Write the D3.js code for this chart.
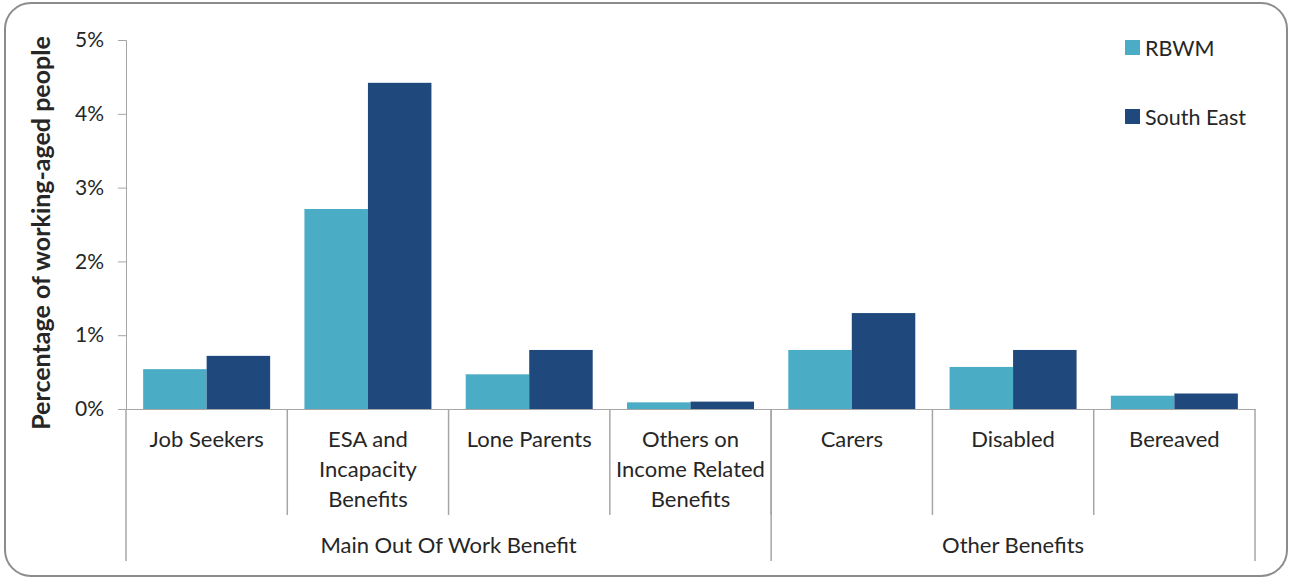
<!DOCTYPE html>
<html>
<head>
<meta charset="utf-8">
<script src="https://cdn.jsdelivr.net/npm/d3@7/dist/d3.min.js"></script>
<style>
  html, body { margin: 0; padding: 0; background: #fff; }
  svg { display: block; }
  text { font-family: Lato, "Open Sans", sans-serif; fill: #262626; }
</style>
</head>
<body>
<svg id="chart" width="1292" height="579"></svg>
<script>
// Benefit claimants as a share of working-aged people
const categories = ["Job Seekers", "ESA and Incapacity Benefits", "Lone Parents",
  "Others on Income Related Benefits", "Carers", "Disabled", "Bereaved"];
const categoryLines = [["Job Seekers"], ["ESA and", "Incapacity", "Benefits"], ["Lone Parents"],
  ["Others on", "Income Related", "Benefits"], ["Carers"], ["Disabled"], ["Bereaved"]];
const groups = ["Main Out Of Work Benefit", "Other Benefits"];
const groupSizes = [4, 3];
const seriesNames = ["RBWM", "South East"];
const rbwm = [0.54, 2.71, 0.47, 0.09, 0.80, 0.57, 0.18];
const southEast = [0.72, 4.42, 0.80, 0.10, 1.30, 0.80, 0.21];
const yTicks = [0, 1, 2, 3, 4, 5];
const colors = ["#4BACC6", "#1F497D"];

const svg = d3.select("#chart");
const axisColor = "#a6a6a6";

// outer rounded frame
svg.append("rect")
  .attr("x", 5).attr("y", 3).attr("width", 1282).attr("height", 573)
  .attr("rx", 26).attr("ry", 26)
  .attr("fill", "#fff").attr("stroke", "#8c8c8c").attr("stroke-width", 2);

const plot = { left: 126, right: 1255, top: 40, bottom: 409 };

const x = d3.scaleBand().domain(categories).range([plot.left, plot.right]).paddingInner(0).paddingOuter(0);
const xs = d3.scaleBand().domain(seriesNames).range([0, x.bandwidth()]).paddingOuter(0.27).paddingInner(0);
const y = d3.scaleLinear().domain([0, 5]).range([plot.bottom, plot.top]);

// bars
const seriesData = [rbwm, southEast];
seriesNames.forEach((name, si) => {
  svg.append("g").selectAll("rect")
    .data(categories)
    .join("rect")
    .attr("x", c => x(c) + xs(name))
    .attr("y", (c, i) => y(seriesData[si][i]))
    .attr("width", xs.bandwidth())
    .attr("height", (c, i) => y(0) - y(seriesData[si][i]))
    .attr("fill", colors[si]);
});

// y axis
const yAxis = d3.axisLeft(y).tickValues(yTicks).tickFormat(d => d + "%").tickSize(8).tickPadding(14);
const gy = svg.append("g").attr("transform", `translate(${plot.left},0)`).call(yAxis);
gy.select(".domain").attr("stroke", axisColor);
gy.selectAll(".tick line").attr("stroke", axisColor);
gy.selectAll(".tick text").attr("font-size", 21).attr("fill", "#262626")
  .attr("font-family", "Lato, 'Open Sans', sans-serif");

// x axis baseline
const xAxis = d3.axisBottom(x).tickValues([]).tickSizeOuter(0);
const gx = svg.append("g").attr("transform", `translate(0,${plot.bottom})`).call(xAxis);
gx.select(".domain").attr("stroke", axisColor);

// category separators
const catBounds = categories.slice(1).map(c => x(c));
svg.append("g").selectAll("line").data(catBounds).join("line")
  .attr("x1", d => d).attr("x2", d => d)
  .attr("y1", plot.bottom).attr("y2", 515)
  .attr("stroke", axisColor).attr("stroke-width", 1.5);

// group separators
let idx = 0;
const groupBounds = [plot.left];
const groupCenters = [];
groupSizes.forEach(n => {
  const start = x(categories[idx]);
  const end = x(categories[idx + n - 1]) + x.bandwidth();
  groupCenters.push((start + end) / 2);
  groupBounds.push(end);
  idx += n;
});
svg.append("g").selectAll("line").data(groupBounds).join("line")
  .attr("x1", d => d).attr("x2", d => d)
  .attr("y1", plot.bottom).attr("y2", 561)
  .attr("stroke", axisColor).attr("stroke-width", 1.5);

// category labels
const labels = svg.append("g");
categories.forEach((c, i) => {
  const t = labels.append("text")
    .attr("x", x(c) + x.bandwidth() / 2)
    .attr("y", 447)
    .attr("text-anchor", "middle")
    .attr("font-size", 22);
  categoryLines[i].forEach((line, li) => {
    t.append("tspan").attr("x", x(c) + x.bandwidth() / 2).attr("dy", li === 0 ? 0 : 30).text(line);
  });
});

// group labels
groups.forEach((g, i) => {
  svg.append("text")
    .attr("x", groupCenters[i]).attr("y", 553)
    .attr("text-anchor", "middle").attr("font-size", 22)
    .text(g);
});

// y axis title
svg.append("text")
  .attr("transform", "translate(50,233) rotate(-90)")
  .attr("text-anchor", "middle")
  .attr("font-size", 25).attr("font-weight", "bold").attr("fill", "#000")
  .text("Percentage of working-aged people");

// legend
const legend = svg.append("g");
seriesNames.forEach((name, i) => {
  const ly = 48 + i * 69;
  legend.append("rect").attr("x", 1125).attr("y", ly - 8).attr("width", 15).attr("height", 15).attr("fill", colors[i]);
  legend.append("text").attr("x", 1145).attr("y", ly + 8).attr("font-size", 21.5).text(name);
});
</script>
</body>
</html>
